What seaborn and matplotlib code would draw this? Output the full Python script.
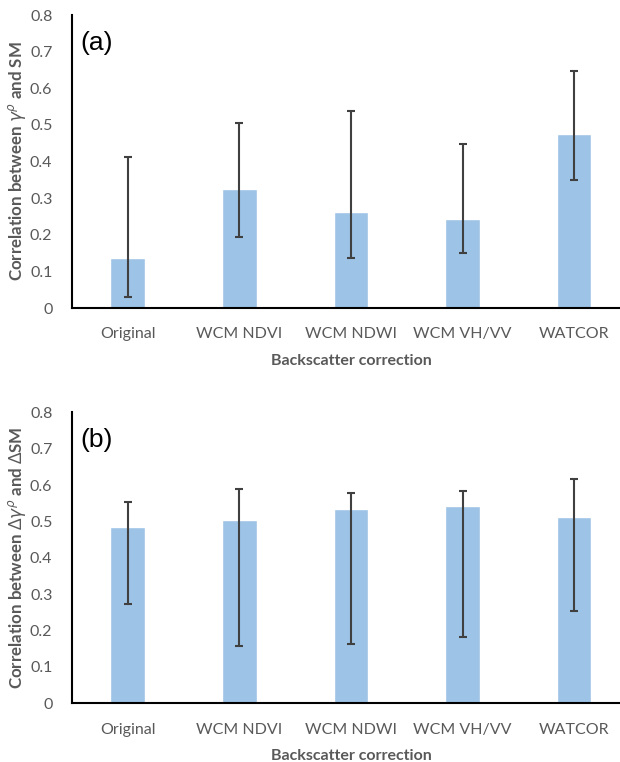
import numpy as np
import pandas as pd
import matplotlib
matplotlib.use("Agg")
import matplotlib.pyplot as plt
import seaborn as sns

categories = ["Original", "WCM NDVI", "WCM NDWI", "WCM VH/VV", "WATCOR"]

# (a) correlation between gamma and SM: mean with min/max range
corr_a = [0.137, 0.325, 0.263, 0.243, 0.475]
low_a = [0.030, 0.194, 0.136, 0.149, 0.350]
high_a = [0.413, 0.504, 0.538, 0.448, 0.647]

# (b) correlation between delta gamma and delta SM
corr_b = [0.484, 0.505, 0.533, 0.542, 0.511]
low_b = [0.272, 0.158, 0.163, 0.183, 0.255]
high_b = [0.552, 0.589, 0.577, 0.583, 0.617]

yticks = [0, 0.1, 0.2, 0.3, 0.4, 0.5, 0.6, 0.7, 0.8]
ytick_labels = ["0", "0.1", "0.2", "0.3", "0.4", "0.5", "0.6", "0.7", "0.8"]

sns.set_theme(style="white")
plt.rcParams["font.family"] = ["Lato", "DejaVu Sans"]
plt.rcParams["mathtext.fontset"] = "custom"
plt.rcParams["mathtext.it"] = "DejaVu Sans:italic"
plt.rcParams["mathtext.rm"] = "Lato"

BAR = "#9DC3E6"
GREY = "#595959"
ERR = "#404040"

fig = plt.figure(figsize=(6.2, 7.62), dpi=100)
ax_a = fig.add_axes([0.116, 0.5958, 0.9, 0.3845])
ax_b = fig.add_axes([0.116, 0.0770, 0.9, 0.3820])


def panel(ax, vals, lo, hi, ylabel, tag):
    df = pd.DataFrame({"cat": categories, "val": vals})
    sns.barplot(data=df, x="cat", y="val", color=BAR, width=0.31,
                saturation=1, errorbar=None, ax=ax)
    x = np.arange(len(categories))
    v = np.array(vals)
    yerr = np.vstack([v - np.array(lo), np.array(hi) - v])
    ax.errorbar(x, v, yerr=yerr, fmt="none", ecolor=ERR, elinewidth=1.5,
                capsize=3.2, capthick=1.5)
    ax.set_xlim(-0.5, 4.5)
    ax.set_ylim(0, 0.8)
    ax.set_yticks(yticks)
    ax.set_yticklabels(ytick_labels)
    ax.tick_params(axis="both", length=0, labelsize=11.5, labelcolor=GREY)
    ax.tick_params(axis="y", pad=14)
    ax.tick_params(axis="x", pad=14)
    ax.set_xlabel("Backscatter correction", fontsize=11.5, fontweight="bold",
                  color=GREY, labelpad=9)
    ax.set_ylabel(ylabel, fontsize=12.2, fontweight="bold", color=GREY)
    ax.yaxis.set_label_coords(-0.078, 0.5)
    for s in ["top", "right"]:
        ax.spines[s].set_visible(False)
    for s in ["left", "bottom"]:
        ax.spines[s].set_color("black")
        ax.spines[s].set_linewidth(1.5)
    ax.text(0.016, 0.905, tag, transform=ax.transAxes, fontsize=19,
            family=["Liberation Sans"], color="black", va="center")


panel(ax_a, corr_a, low_a, high_a,
      r"Correlation between $\gamma^{\rho}$ and SM", "(a)")
panel(ax_b, corr_b, low_b, high_b,
      r"Correlation between $\Delta\gamma^{\rho}$ and $\Delta$SM", "(b)")

fig.savefig("out.png", dpi=100)
